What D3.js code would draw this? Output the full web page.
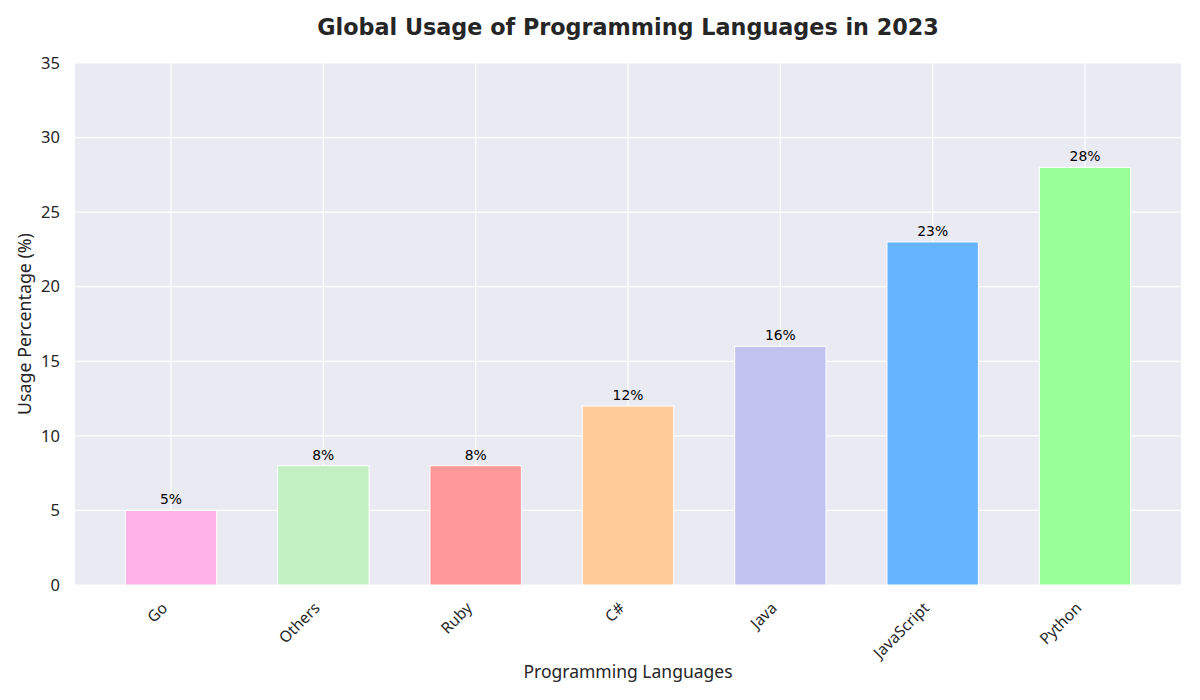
<!DOCTYPE html>
<html>
<head>
<meta charset="utf-8">
<script src="https://cdn.jsdelivr.net/npm/d3@7"></script>
<style>
  html, body { margin: 0; padding: 0; background: #ffffff; }
  svg { display: block; }
</style>
</head>
<body>
<svg id="chart" width="1200" height="700"></svg>
<script>
const categories = ["Go", "Others", "Ruby", "C#", "Java", "JavaScript", "Python"];
const usage = [5, 8, 8, 12, 16, 23, 28];
const barColors = ["#ffb3e6", "#c2f0c2", "#ff9999", "#ffcc99", "#c2c2f0", "#66b3ff", "#99ff99"];
const yTicks = [0, 5, 10, 15, 20, 25, 30, 35];

const title = "Global Usage of Programming Languages in 2023";
const xLabel = "Programming Languages";
const yLabel = "Usage Percentage (%)";

const margin = { left: 75, right: 19, top: 63, bottom: 115 };
const W = 1200, H = 700;
const plotW = W - margin.left - margin.right;
const plotH = H - margin.top - margin.bottom;

const svg = d3.select("#chart");
const g = svg.append("g").attr("transform", `translate(${margin.left},${margin.top})`);

const barWidth = 0.6;
const x = d3.scaleLinear().domain([-0.63, categories.length - 1 + 0.63]).range([0, plotW]);
const y = d3.scaleLinear().domain([0, 35]).range([plotH, 0]);

// background
g.append("rect").attr("x", 0).attr("y", 0).attr("width", plotW).attr("height", plotH).attr("fill", "#eaeaf2");

// horizontal grid
g.selectAll("line.hgrid").data(yTicks).enter().append("line")
  .attr("x1", 0).attr("x2", plotW)
  .attr("y1", d => y(d)).attr("y2", d => y(d))
  .attr("stroke", "#ffffff").attr("stroke-width", 1.2);

// vertical grid
g.selectAll("line.vgrid").data(categories).enter().append("line")
  .attr("x1", (d, i) => x(i)).attr("x2", (d, i) => x(i))
  .attr("y1", 0).attr("y2", plotH)
  .attr("stroke", "#ffffff").attr("stroke-width", 1.2);

// bars
g.selectAll("rect.bar").data(usage).enter().append("rect")
  .attr("x", (d, i) => x(i - barWidth / 2))
  .attr("width", (d, i) => x(i + barWidth / 2) - x(i - barWidth / 2))
  .attr("y", d => y(d))
  .attr("height", d => y(0) - y(d))
  .attr("fill", (d, i) => barColors[i])
  .attr("stroke", "#ffffff").attr("stroke-width", 1);

// bar value labels
g.selectAll("text.val").data(usage).enter().append("text")
  .attr("x", (d, i) => x(i))
  .attr("y", d => y(d) - 6)
  .attr("text-anchor", "middle")
  .attr("font-family", "DejaVu Sans")
  .attr("font-size", "13.9px")
  .attr("fill", "#000000")
  .text(d => d + "%");

// y tick labels
const yAxis = d3.axisLeft(y).tickValues(yTicks).tickSize(0).tickPadding(15);
const yg = g.append("g").call(yAxis);
yg.select(".domain").remove();
yg.selectAll("text")
  .attr("font-family", "Noto Sans, DejaVu Sans")
  .attr("font-size", "16.5px")
  .attr("fill", "#262626");

// x tick labels
const xAxis = d3.axisBottom(x).tickValues(d3.range(categories.length)).tickFormat(i => categories[i]).tickSize(0);
const xg = g.append("g").attr("transform", `translate(0,${plotH})`).call(xAxis);
xg.select(".domain").remove();
xg.selectAll("text")
  .attr("font-family", "Noto Sans, DejaVu Sans")
  .attr("font-size", "15.5px")
  .attr("fill", "#262626")
  .attr("text-anchor", "end")
  .attr("dy", null)
  .attr("y", null)
  .attr("transform", "translate(-3,24) rotate(-45)");

// title
svg.append("text")
  .attr("x", margin.left + plotW / 2).attr("y", 35)
  .attr("text-anchor", "middle")
  .attr("font-family", "DejaVu Sans")
  .attr("font-weight", "bold")
  .attr("font-size", "22.3px")
  .attr("fill", "#262626")
  .text(title);

// x label
svg.append("text")
  .attr("x", margin.left + plotW / 2).attr("y", 678)
  .attr("text-anchor", "middle")
  .attr("font-family", "Noto Sans, DejaVu Sans")
  .attr("font-size", "17.5px")
  .attr("fill", "#262626")
  .text(xLabel);

// y label
svg.append("text")
  .attr("transform", `translate(31,${margin.top + plotH / 2}) rotate(-90)`)
  .attr("text-anchor", "middle")
  .attr("font-family", "Noto Sans, DejaVu Sans")
  .attr("font-size", "17.8px")
  .attr("fill", "#262626")
  .text(yLabel);
</script>
</body>
</html>
